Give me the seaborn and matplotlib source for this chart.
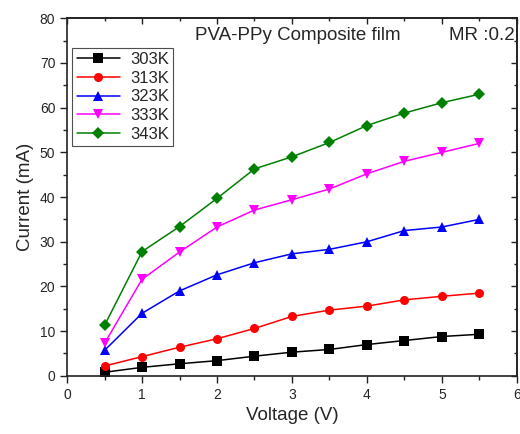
import numpy as np
import pandas as pd
import matplotlib
matplotlib.use('Agg')
import matplotlib.pyplot as plt
import seaborn as sns
from matplotlib.ticker import MultipleLocator, NullFormatter

# Данные
voltage = [0.5, 1.0, 1.5, 2.0, 2.5, 3.0, 3.5, 4.0, 4.5, 5.0, 5.5]
i_303 = [0.8, 1.9, 2.7, 3.4, 4.4, 5.3, 5.9, 7.0, 7.9, 8.8, 9.3]
i_313 = [2.2, 4.3, 6.4, 8.3, 10.6, 13.3, 14.7, 15.6, 17.0, 17.8, 18.5]
i_323 = [5.7, 14.0, 19.0, 22.6, 25.3, 27.3, 28.3, 30.0, 32.5, 33.3, 35.0]
i_333 = [7.3, 21.6, 27.7, 33.3, 37.1, 39.4, 41.8, 45.2, 48.0, 50.0, 52.0]
i_343 = [11.3, 27.8, 33.4, 39.7, 46.3, 49.0, 52.2, 56.0, 58.8, 61.1, 63.0]
temps = ['303K', '313K', '323K', '333K', '343K']

series = [i_303, i_313, i_323, i_333, i_343]
df = pd.concat([pd.DataFrame({'Voltage': voltage, 'Current': s, 'T': t})
                for s, t in zip(series, temps)], ignore_index=True)

colors = ['black', 'red', 'blue', 'magenta', 'green']
markers = ['s', 'o', '^', 'v', 'D']

sns.set_style('ticks')
plt.rcParams['font.family'] = ['Liberation Sans', 'DejaVu Sans']

fig = plt.figure(figsize=(5.2, 4.34), dpi=100)
ax = fig.add_axes([0.129, 0.134, 0.865, 0.824])

sns.lineplot(data=df, x='Voltage', y='Current', hue='T', style='T',
             palette=colors, markers=markers, dashes=False, markersize=6.5,
             markeredgewidth=0, linewidth=1.1, ax=ax)

ax.set_xlim(0, 6)
ax.set_ylim(0, 80)
ax.xaxis.set_major_locator(MultipleLocator(1))
ax.xaxis.set_minor_locator(MultipleLocator(0.5))
ax.yaxis.set_major_locator(MultipleLocator(10))
ax.yaxis.set_minor_locator(MultipleLocator(5))
ax.tick_params(which='both', direction='out', labelsize=10, width=1, color='#222222')
ax.tick_params(which='major', length=5)
ax.tick_params(which='minor', length=3)
for sp in ax.spines.values():
    sp.set_linewidth(1.2)
    sp.set_color('#222222')

# верхняя и правая оси: тики внутрь, без подписей
top = ax.secondary_xaxis('top')
right = ax.secondary_yaxis('right')
top.xaxis.set_major_locator(MultipleLocator(1))
top.xaxis.set_minor_locator(MultipleLocator(0.5))
right.yaxis.set_major_locator(MultipleLocator(10))
right.yaxis.set_minor_locator(MultipleLocator(5))
for sec in (top, right):
    sec.tick_params(which='both', direction='in', width=1, color='#222222',
                    labelleft=False, labelright=False, labeltop=False, labelbottom=False)
    sec.tick_params(which='major', length=4)
    sec.tick_params(which='minor', length=2.5)
    for sp in sec.spines.values():
        sp.set_linewidth(1.2)
        sp.set_color('#222222')

ax.set_xlabel('Voltage (V)', fontsize=13.5)
ax.set_ylabel('Current (mA)', fontsize=13.5)

ax.text(0.512, 0.975, 'PVA-PPy Composite film', transform=ax.transAxes,
        ha='center', va='top', fontsize=13.5)
ax.text(0.995, 0.975, 'MR :0.2', transform=ax.transAxes,
        ha='right', va='top', fontsize=13.5)

leg = ax.legend(loc='upper left', bbox_to_anchor=(0.012, 0.917), fontsize=12,
                frameon=True, fancybox=False, edgecolor='#222222',
                handlelength=2.6, borderpad=0.25, labelspacing=0.22,
                handletextpad=0.6, borderaxespad=0)
leg.get_frame().set_linewidth(0.8)

fig.savefig('out.png', dpi=100)
